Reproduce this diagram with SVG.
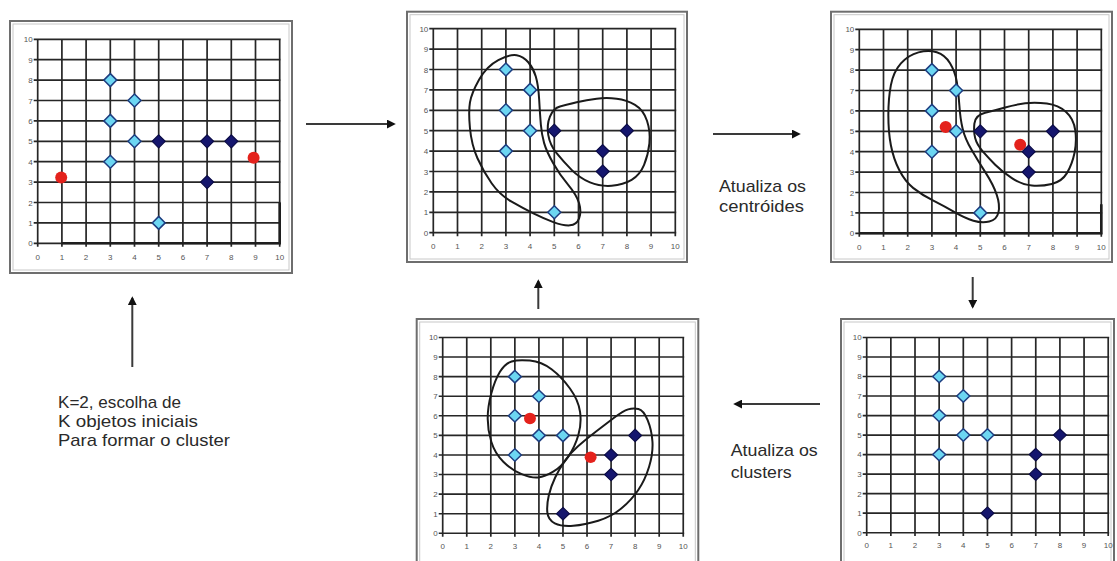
<svg xmlns="http://www.w3.org/2000/svg" width="1117" height="561" viewBox="0 0 1117 561">
<style>
.frame{fill:#fff;stroke:#6e6e6e;stroke-width:2}
.frame-in{fill:none;stroke:#c8c8c8;stroke-width:1}
.grid{fill:none;stroke:#262626;stroke-width:1.7}
.heavy{fill:none;stroke:#1e1e1e;stroke-width:2.6}
.tick{font-family:"Liberation Sans",Arial,sans-serif;font-size:8px;fill:#555}
.lt{fill:#6cd6f2;stroke:#1d3d80;stroke-width:1.5}
.dk{fill:#15166e;stroke:#0b0b45;stroke-width:1.2}
.ctr{fill:#e4221c}
.blob{fill:none;stroke:#1a1a1a;stroke-width:2;vector-effect:non-scaling-stroke}
.lbl{font-family:"Liberation Sans",Arial,sans-serif;font-size:17px;fill:#2a2a2a}
.arrow{stroke:#3a3a3a;stroke-width:2;fill:none;marker-end:url(#ah)}
</style>
<defs>
  <marker id="ah" viewBox="0 0 10 10" refX="8" refY="5" markerWidth="9" markerHeight="9" markerUnits="userSpaceOnUse" orient="auto">
    <path d="M0 0L10 5L0 10Z" fill="#111"/>
  </marker>
  <path id="d" d="M0 -6.5L6.5 0L0 6.5L-6.5 0Z"/>
  <!-- 10x10 chart grid, one unit = 24.2 px across, 20.4 px up -->
  <g id="plot">
    <path class="grid" d="M-4 0H243M-4 -20.4H243M-4 -40.8H243M-4 -61.2H243M-4 -81.6H243M-4 -102H243M-4 -122.4H243M-4 -142.8H243M-4 -163.2H243M-4 -183.6H243M-4 -204H243
      M0 3.5V-204M24.2 3.5V-204M48.4 3.5V-204M72.6 3.5V-204M96.8 3.5V-204M121 3.5V-204M145.2 3.5V-204M169.4 3.5V-204M193.6 3.5V-204M217.8 3.5V-204M242 3.5V-204"/>
    <g class="tick" text-anchor="middle">
      <text x="0" y="16.5">0</text><text x="24.2" y="16.5">1</text><text x="48.4" y="16.5">2</text><text x="72.6" y="16.5">3</text><text x="96.8" y="16.5">4</text><text x="121" y="16.5">5</text><text x="145.2" y="16.5">6</text><text x="169.4" y="16.5">7</text><text x="193.6" y="16.5">8</text><text x="217.8" y="16.5">9</text><text x="242" y="16.5">10</text>
    </g>
    <g class="tick" text-anchor="end">
      <text x="-5" y="3">0</text><text x="-5" y="-17.4">1</text><text x="-5" y="-37.8">2</text><text x="-5" y="-58.2">3</text><text x="-5" y="-78.6">4</text><text x="-5" y="-99">5</text><text x="-5" y="-119.4">6</text><text x="-5" y="-139.8">7</text><text x="-5" y="-160.2">8</text><text x="-5" y="-180.6">9</text><text x="-5" y="-201">10</text>
    </g>
  </g>
</defs>

<!-- 1: data set with the two initial centroids -->
<g id="step-initial">
  <rect class="frame" x="10" y="21" width="282" height="252"/>
  <rect class="frame-in" x="13" y="24" width="276" height="246"/>
  <g transform="translate(37.7 243.3)">
    <use href="#plot"/>
    <path class="heavy" d="M24.2 0H242V-40.8"/>
    <use href="#d" class="lt" x="72.6" y="-163.2"/>
    <use href="#d" class="lt" x="96.8" y="-142.8"/>
    <use href="#d" class="lt" x="72.6" y="-122.4"/>
    <use href="#d" class="lt" x="96.8" y="-102"/>
    <use href="#d" class="lt" x="72.6" y="-81.6"/>
    <use href="#d" class="lt" x="121" y="-20.4"/>
    <use href="#d" class="dk" x="121" y="-102"/>
    <use href="#d" class="dk" x="169.4" y="-102"/>
    <use href="#d" class="dk" x="193.6" y="-102"/>
    <use href="#d" class="dk" x="169.4" y="-61.2"/>
    <circle class="ctr" cx="23.5" cy="-65.9" r="6"/>
    <circle class="ctr" cx="215.9" cy="-85.5" r="6"/>
  </g>
</g>

<!-- 2: first assignment to clusters -->
<g id="step-assign">
  <rect class="frame" x="407" y="11.7" width="280" height="250.3"/>
  <rect class="frame-in" x="410" y="14.7" width="274" height="244.3"/>
  <g transform="translate(433.3 232.7)">
    <use href="#plot"/>
    <g transform="scale(24.2 -20.4)">
      <path class="blob" d="M2.685 8.455Q3.17 8.76 3.445 8.7Q3.72 8.64 3.925 8.355Q4.13 8.07 4.235 7.66Q4.34 7.25 4.375 6.515Q4.41 5.78 4.445 5.29Q4.48 4.8 4.58 4.39Q4.68 3.98 4.955 3.405Q5.23 2.83 5.575 2.34Q5.92 1.85 6.025 1.44Q6.13 1.03 6.025 0.705Q5.92 0.38 5.645 0.36Q5.37 0.34 4.96 0.52Q4.55 0.7 4.135 0.945Q3.72 1.19 3.235 1.52Q2.75 1.85 2.41 2.425Q2.07 3 1.825 3.65Q1.58 4.3 1.515 5.12Q1.45 5.94 1.515 6.39Q1.58 6.84 1.89 7.495Q2.2 8.15 2.685 8.455Z"/>
      <path class="blob" d="M4.82 5.695Q4.96 6.1 5.235 6.185Q5.51 6.27 5.925 6.39Q6.34 6.51 6.75 6.57Q7.16 6.63 7.575 6.57Q7.99 6.51 8.335 6.265Q8.68 6.02 8.83 5.49Q8.98 4.96 8.93 4.385Q8.88 3.81 8.71 3.32Q8.54 2.83 8.195 2.585Q7.85 2.34 7.37 2.3Q6.89 2.26 6.475 2.465Q6.06 2.67 5.715 3.08Q5.37 3.49 5.095 3.895Q4.82 4.3 4.75 4.795Q4.68 5.29 4.82 5.695Z"/>
    </g>
    <use href="#d" class="lt" x="72.6" y="-163.2"/>
    <use href="#d" class="lt" x="96.8" y="-142.8"/>
    <use href="#d" class="lt" x="72.6" y="-122.4"/>
    <use href="#d" class="lt" x="96.8" y="-102"/>
    <use href="#d" class="lt" x="72.6" y="-81.6"/>
    <use href="#d" class="lt" x="121" y="-20.4"/>
    <use href="#d" class="dk" x="121" y="-102"/>
    <use href="#d" class="dk" x="193.6" y="-102"/>
    <use href="#d" class="dk" x="169.4" y="-81.6"/>
    <use href="#d" class="dk" x="169.4" y="-61.2"/>
  </g>
</g>

<!-- 3: centroids recomputed -->
<g id="step-centroids">
  <rect class="frame" x="831" y="11.7" width="281" height="250.3"/>
  <rect class="frame-in" x="834" y="14.7" width="275" height="244.3"/>
  <g transform="translate(859.3 233.3)">
    <use href="#plot"/>
    <path class="heavy" d="M0 0H242V-29"/>
    <g transform="scale(24.2 -20.4)">
      <path class="blob" d="M2.445 8.87Q2.86 9 3.2 8.875Q3.54 8.75 3.75 8.335Q3.96 7.92 4.03 7.425Q4.1 6.93 4.135 6.275Q4.17 5.62 4.27 5.13Q4.37 4.64 4.645 4.08Q4.92 3.52 5.23 2.95Q5.54 2.38 5.68 1.885Q5.82 1.39 5.75 1.025Q5.68 0.66 5.37 0.575Q5.06 0.49 4.715 0.615Q4.37 0.74 3.955 1.025Q3.54 1.31 3.06 1.6Q2.58 1.89 2.235 2.215Q1.89 2.54 1.65 3.1Q1.41 3.66 1.305 4.315Q1.2 4.97 1.2 5.79Q1.2 6.61 1.305 7.265Q1.41 7.92 1.72 8.33Q2.03 8.74 2.445 8.87Z"/>
      <path class="blob" d="M4.755 5.38Q4.79 5.79 5.2 5.91Q5.61 6.03 6.025 6.17Q6.44 6.31 6.855 6.375Q7.27 6.44 7.75 6.36Q8.23 6.28 8.545 5.95Q8.86 5.62 8.925 5.05Q8.99 4.48 8.89 3.92Q8.79 3.36 8.58 2.95Q8.37 2.54 7.955 2.42Q7.54 2.3 7.13 2.34Q6.72 2.38 6.305 2.705Q5.89 3.03 5.615 3.36Q5.34 3.69 5.1 4.015Q4.86 4.34 4.79 4.655Q4.72 4.97 4.755 5.38Z"/>
    </g>
    <circle class="ctr" cx="86.4" cy="-106.3" r="6"/>
    <circle class="ctr" cx="160.9" cy="-88.5" r="6"/>
    <use href="#d" class="lt" x="72.6" y="-163.2"/>
    <use href="#d" class="lt" x="96.8" y="-142.8"/>
    <use href="#d" class="lt" x="72.6" y="-122.4"/>
    <use href="#d" class="lt" x="96.8" y="-102"/>
    <use href="#d" class="lt" x="72.6" y="-81.6"/>
    <use href="#d" class="lt" x="121" y="-20.4"/>
    <use href="#d" class="dk" x="121" y="-102"/>
    <use href="#d" class="dk" x="193.6" y="-102"/>
    <use href="#d" class="dk" x="169.4" y="-81.6"/>
    <use href="#d" class="dk" x="169.4" y="-61.2"/>
  </g>
</g>

<!-- 4: reassignment with new centroids -->
<g id="step-reassign">
  <rect class="frame" x="416.7" y="319" width="281.6" height="250"/>
  <rect class="frame-in" x="419.7" y="322" width="275.6" height="244"/>
  <g transform="translate(442.7 533.3) scale(0.994 0.96)">
    <use href="#plot"/>
    <g transform="scale(24.2 -20.4)">
      <path class="blob" d="M2.865 8.775Q3.14 8.88 3.625 8.82Q4.11 8.76 4.525 8.375Q4.94 7.99 5.29 7.395Q5.64 6.8 5.71 6.205Q5.78 5.61 5.64 5.015Q5.5 4.42 5.22 3.91Q4.94 3.4 4.595 3.145Q4.25 2.89 3.975 2.85Q3.7 2.81 3.285 3.02Q2.87 3.23 2.52 3.655Q2.17 4.08 2.02 4.675Q1.87 5.27 1.87 5.865Q1.87 6.46 2.02 7.14Q2.17 7.82 2.38 8.245Q2.59 8.67 2.865 8.775Z"/>
      <path class="blob" d="M7.71 6.33Q7.92 6.41 8.135 6.35Q8.35 6.29 8.52 5.78Q8.69 5.27 8.72 4.675Q8.75 4.08 8.58 3.4Q8.41 2.72 8.13 2.21Q7.85 1.7 7.435 1.275Q7.02 0.85 6.465 0.64Q5.91 0.43 5.425 0.385Q4.94 0.34 4.66 0.51Q4.38 0.68 4.35 1.065Q4.32 1.45 4.41 1.925Q4.5 2.4 4.675 2.85Q4.85 3.3 5.075 3.7Q5.3 4.1 5.625 4.45Q5.95 4.8 6.375 5.2Q6.8 5.6 7.15 5.925Q7.5 6.25 7.71 6.33Z"/>
    </g>
    <use href="#d" class="lt" x="72.6" y="-163.2"/>
    <use href="#d" class="lt" x="96.8" y="-142.8"/>
    <use href="#d" class="lt" x="72.6" y="-122.4"/>
    <use href="#d" class="lt" x="96.8" y="-102"/>
    <use href="#d" class="lt" x="121" y="-102"/>
    <use href="#d" class="lt" x="72.6" y="-81.6"/>
    <use href="#d" class="dk" x="193.6" y="-102"/>
    <use href="#d" class="dk" x="169.4" y="-81.6"/>
    <use href="#d" class="dk" x="169.4" y="-61.2"/>
    <use href="#d" class="dk" x="121" y="-20.4"/>
    <circle class="ctr" cx="87.8" cy="-119.7" r="6"/>
    <circle class="ctr" cx="148.8" cy="-79.2" r="6"/>
  </g>
</g>

<!-- 5: updated clusters -->
<g id="step-clusters">
  <rect class="frame" x="841" y="319" width="273" height="250"/>
  <rect class="frame-in" x="844" y="322" width="267" height="244"/>
  <g transform="translate(866.7 532.7) scale(0.998 0.957)">
    <use href="#plot"/>
    <use href="#d" class="lt" x="72.6" y="-163.2"/>
    <use href="#d" class="lt" x="96.8" y="-142.8"/>
    <use href="#d" class="lt" x="72.6" y="-122.4"/>
    <use href="#d" class="lt" x="96.8" y="-102"/>
    <use href="#d" class="lt" x="121" y="-102"/>
    <use href="#d" class="lt" x="72.6" y="-81.6"/>
    <use href="#d" class="dk" x="193.6" y="-102"/>
    <use href="#d" class="dk" x="169.4" y="-81.6"/>
    <use href="#d" class="dk" x="169.4" y="-61.2"/>
    <use href="#d" class="dk" x="121" y="-20.4"/>
  </g>
</g>

<!-- flow arrows between steps -->
<g id="connectors">
  <line class="arrow" x1="306" y1="124" x2="394" y2="124"/>
  <line class="arrow" x1="713" y1="134" x2="799" y2="134"/>
  <line class="arrow" x1="972.7" y1="277" x2="972.7" y2="307"/>
  <line class="arrow" x1="820" y1="404" x2="735" y2="404"/>
  <line class="arrow" x1="538.3" y1="309" x2="538.3" y2="281"/>
  <line class="arrow" x1="132.3" y1="367" x2="132.3" y2="298"/>
</g>

<g id="captions" class="lbl">
  <text x="58" y="408" textLength="123" lengthAdjust="spacingAndGlyphs">K=2, escolha de</text>
  <text x="58" y="427" textLength="140" lengthAdjust="spacingAndGlyphs">K objetos iniciais</text>
  <text x="58" y="446" textLength="172" lengthAdjust="spacingAndGlyphs">Para formar o cluster</text>
  <text x="719" y="191.5" textLength="87" lengthAdjust="spacingAndGlyphs">Atualiza os</text>
  <text x="719" y="212" textLength="85" lengthAdjust="spacingAndGlyphs">centróides</text>
  <text x="730.7" y="456" textLength="87" lengthAdjust="spacingAndGlyphs">Atualiza os</text>
  <text x="730.7" y="478" textLength="61" lengthAdjust="spacingAndGlyphs">clusters</text>
</g>
</svg>
